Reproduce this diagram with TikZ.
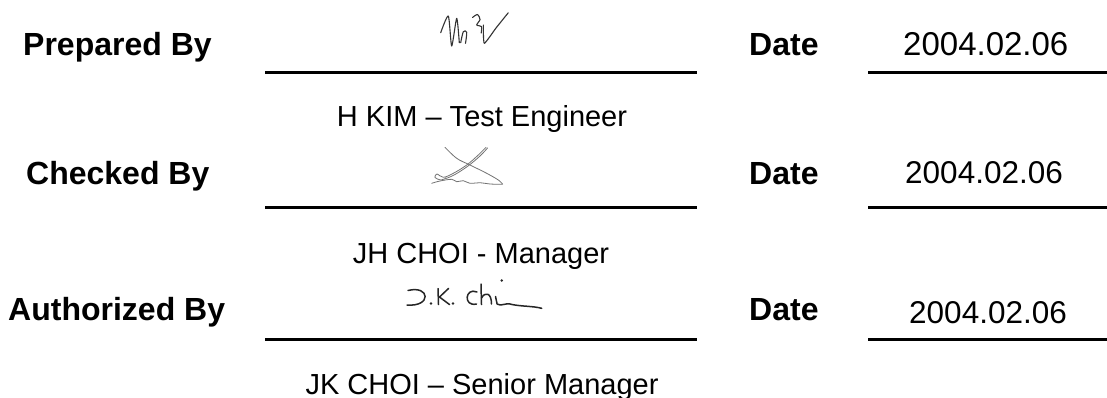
\documentclass[tikz,border=0pt]{standalone}
\usepackage{fontspec}
\setmainfont{Liberation Sans}
\begin{document}
\begin{tikzpicture}[x=1pt,y=-1pt,
  lbl/.style={anchor=base west,inner sep=0pt,font=\fontsize{32}{38}\selectfont\bfseries},
  datetxt/.style={anchor=base west,inner sep=0pt,font=\fontsize{#1}{38}\selectfont},
  nametxt/.style={anchor=base,inner sep=0pt,font=\fontsize{29}{35}\selectfont},
  rule/.style={line width=3pt},
  sig/.style={line width=1.1pt,line cap=round,line join=round},
  sigdark/.style={line width=1.5pt,line cap=round,line join=round,black!85},
  siggray/.style={line width=0.8pt,line cap=round,line join=round,black!55}]
\useasboundingbox (0,0) rectangle (1107,397);
\fill[white] (0,0) rectangle (1107,397);

% labels
\node[lbl] (prep) at (23,55) {Prepared By};
\node[lbl] (chk) at (26,184) {Checked By};
\node[lbl] (auth) at (8,320) {Authorized By};
\node[lbl] (d1) at (749,55) {Date};
\node[lbl] (d2) at (749,184) {Date};
\node[lbl] (d3) at (749,320) {Date};

% dates
\node[datetxt=33] (v1) at (903,55) {2004.02.06};
\node[datetxt=31.5] (v2) at (905,183) {2004.02.06};
\node[datetxt=31.5] (v3) at (909,323) {2004.02.06};

% names
\node[nametxt] (n1) at (482,126) {H KIM – Test Engineer};
\node[nametxt] (n2) at (481,263) {JH CHOI - Manager};
\node[nametxt] (n3) at (482,394) {JK CHOI – Senior Manager};

% rules
\coordinate (l1a) at (265,72);  \coordinate (l1b) at (697,72);
\coordinate (l2a) at (265,207); \coordinate (l2b) at (697,207);
\coordinate (l3a) at (265,339); \coordinate (l3b) at (697,339);
\coordinate (r1a) at (868,72);  \coordinate (r1b) at (1107,72);
\coordinate (r2a) at (868,207); \coordinate (r2b) at (1107,207);
\coordinate (r3a) at (868,339); \coordinate (r3b) at (1107,339);
\draw[rule] (l1a) -- (l1b);
\draw[rule] (l2a) -- (l2b);
\draw[rule] (l3a) -- (l3b);
\draw[rule] (r1a) -- (r1b);
\draw[rule] (r2a) -- (r2b);
\draw[rule] (r3a) -- (r3b);

% signature 1
\draw[sig,black!80] plot[smooth,tension=0.4] coordinates
  {(440.7,32.7) (448.3,16) (451.7,46) (456.7,18.3) (459.3,42.7)};
\draw[sig,black!80] plot[smooth,tension=0.5] coordinates
  {(460.7,42.7) (463.3,31.7) (466.7,32.3) (465.5,43.3)};
\draw[sig,black!80] plot[smooth,tension=0.5] coordinates
  {(472.5,17.5) (477.5,14.5) (480,19.5) (476.7,25) (481.5,26.5) (481.2,33)};
\draw[sig,black!80] plot[smooth,tension=0.3] coordinates
  {(483.3,25) (484.3,43.3) (496,28) (508.3,12.7)};

% signature 2
\draw[siggray] plot[smooth,tension=0.6] coordinates
  {(445,147.3) (456.7,158.3) (470,165) (486.7,173.3) (498.3,180) (502.7,184.3)};
\draw[siggray] plot[smooth,tension=0.6] coordinates
  {(486,147.3) (478.3,155) (466.7,165) (453.3,173.3) (443.3,177.3) (437,174) (435,177.5) (441,180) (446,178)};
\draw[siggray] plot[smooth,tension=0.6] coordinates
  {(487.5,148) (480,156) (468,166) (455,174.5) (446,178.5)};
\draw[siggray] plot[smooth,tension=0.6] coordinates
  {(431.7,183.3) (440,181) (451.7,179.3) (456.7,181.7) (463.3,180.7) (470,183.3) (480,182.7) (490,184) (501.7,184.3)};

% signature 3
\draw[sigdark] (408,290.5) .. controls (430,285) and (432,307) .. (407,305);
\fill[black!85] (431,303.5) circle (1.4);
\draw[sigdark] (438,288.5) -- (438.5,304.5);
\draw[sigdark] (448.5,288.5) -- (439.5,297) -- (449.5,304.5);
\fill[black!85] (453,303.5) circle (1.4);
\draw[sigdark] (477,292) .. controls (465,287) and (463,307) .. (476.5,304);
\draw[sigdark] (481,284) -- (481.5,304.5);
\draw[sigdark] (481.5,298) .. controls (485,291.5) and (491.5,292.5) .. (491.5,304);
\draw[sigdark] (495.5,296.5) -- (497,303.5);
\fill[black!85] (501.7,280.5) circle (1.3);
\draw[sigdark] (497,304) .. controls (502,307) and (505,302) .. (512,304.5)
  .. controls (522,306.5) and (533,306) .. (541.7,308.3);
\end{tikzpicture}
\end{document}
